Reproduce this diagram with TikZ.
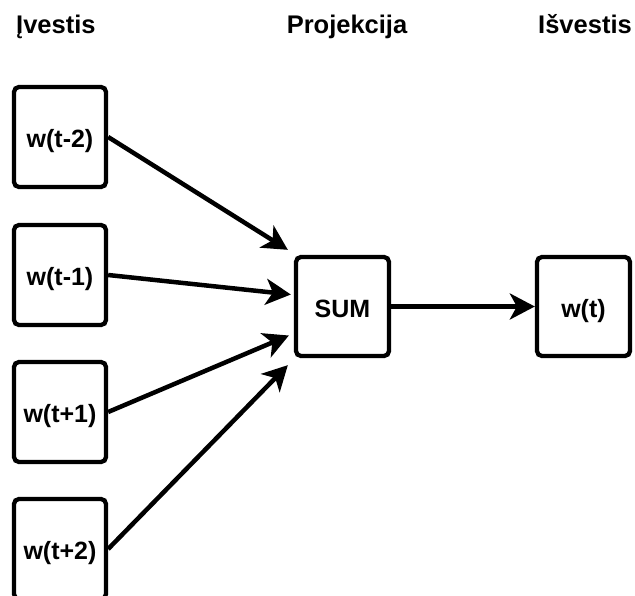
\documentclass[tikz,border=0pt]{standalone}
\usepackage{fontspec}
\setmainfont{Liberation Sans}
\usetikzlibrary{arrows.meta,calc}

\tikzset{
  unit/.style={draw=black, line width=4.3pt, rounded corners=5pt,
    minimum width=92pt, minimum height=100pt, inner sep=0pt,
    text height=21pt, text depth=0pt,
    font=\fontsize{25}{28}\selectfont\bfseries},
  heading/.style={inner sep=0pt, font=\fontsize{25.5}{29}\selectfont\bfseries},
  link/.style={line width=4.5pt, -{Stealth[length=25pt,width=26pt,inset=7pt]}}
}

\begin{document}
\begin{tikzpicture}[x=1pt,y=-1pt]
  \useasboundingbox (0,0) rectangle (635,596);
  \fill[white] (0,0) rectangle (635,596);

  % column headings
  \node[heading, anchor=base west] (hin)  at (16,34)  {Įvestis};
  \node[heading, anchor=base]      (hpr)  at (347,34) {Projekcija};
  \node[heading, anchor=base]      (hout) at (585,34) {Išvestis};

  % context words
  \node[unit] (wm2) at (60,137) {w(t-2)};
  \node[unit] (wm1) at (60,275) {w(t-1)};
  \node[unit] (wp1) at (60,412) {w(t+1)};
  \node[unit] (wp2) at (60,549) {w(t+2)};

  % projection and output
  \node[unit, minimum width=93pt, minimum height=99pt] (sum) at (342.5,306.5) {SUM};
  \node[unit, minimum width=93pt, minimum height=99pt] (out) at (583.5,306.5) {w(t)};

  % connections
  \draw[link] (wm2.east) -- ($(sum.north west)+(-6,-5)$);
  \draw[link] (wm1.east) -- ($(sum.west)+(-3,-12)$);
  \draw[link] (wp1.east) -- ($(sum.west)+(-5,29)$);
  \draw[link] (wp2.east) -- ($(sum.south west)+(-6,7)$);
  \draw[link] (sum.east) -- (out.west);
\end{tikzpicture}
\end{document}
